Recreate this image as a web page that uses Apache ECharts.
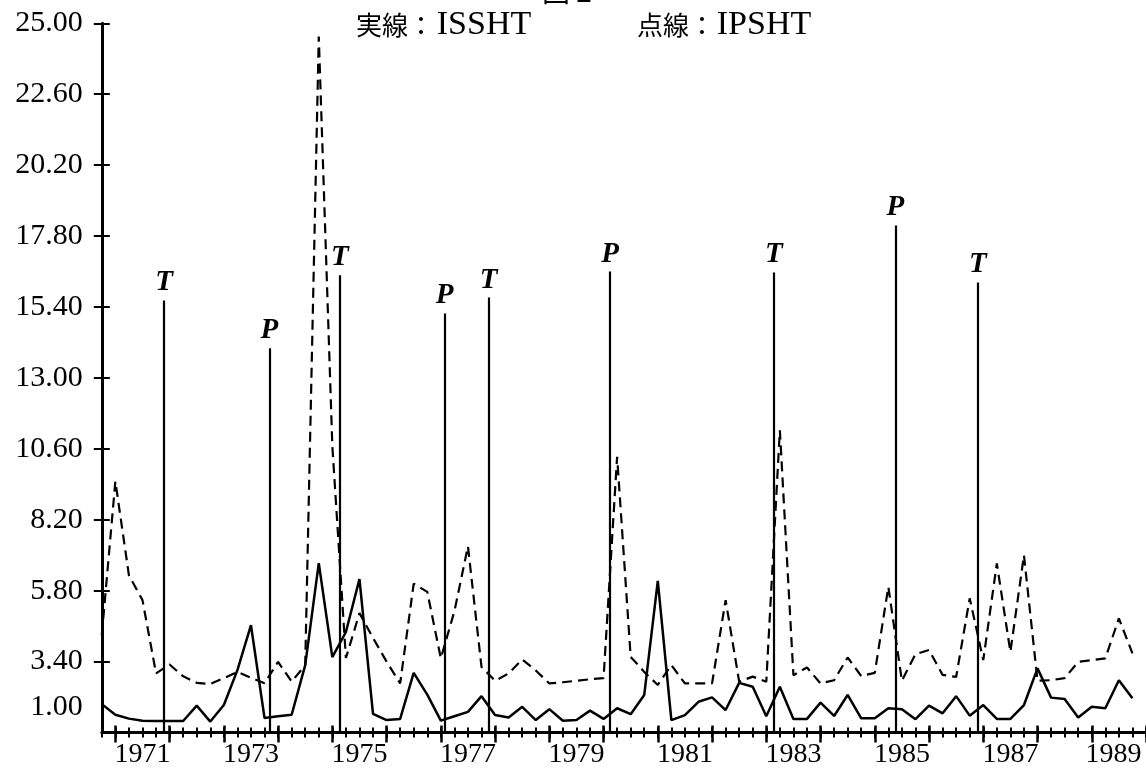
<!DOCTYPE html>
<html><head><meta charset="utf-8">
<script src="https://cdn.jsdelivr.net/npm/echarts@6/dist/echarts.min.js"></script>
<style>html,body{margin:0;padding:0;background:#fff}#c{width:1146px;height:769px}</style>
</head><body><div id="c"></div>
<script>
// Quarterly data, first point = 1970 Q4
const startQuarter = 1970.75;
const issht = [1.96,1.60,1.47,1.40,1.39,1.39,1.39,1.91,1.37,1.93,
  3.11,4.63,1.49,1.55,1.60,3.28,6.73,3.55,4.40,6.19,
  1.63,1.42,1.46,3.02,2.28,1.40,1.55,1.70,2.23,1.59,
  1.51,1.87,1.42,1.79,1.40,1.42,1.74,1.46,1.82,1.62,
  2.27,6.13,1.42,1.59,2.04,2.19,1.76,2.68,2.55,1.55,
  2.55,1.46,1.46,2.01,1.56,2.27,1.48,1.48,1.82,1.79,
  1.45,1.91,1.65,2.23,1.57,1.93,1.46,1.46,1.93,3.17,
  2.18,2.13,1.51,1.87,1.82,2.77,2.16];
const ipsht = [4.30,9.50,6.32,5.48,3.00,3.30,2.90,2.68,2.64,2.84,
  3.05,2.85,2.67,3.39,2.72,3.28,24.55,10.70,3.52,5.04,
  4.20,3.40,2.66,6.04,5.76,3.51,5.10,7.30,3.22,2.75,
  3.00,3.47,3.10,2.66,2.70,2.75,2.80,2.84,10.33,3.56,
  3.05,2.61,3.28,2.66,2.66,2.66,5.48,2.72,2.89,2.72,
  11.23,2.94,3.20,2.66,2.77,3.54,2.91,3.02,5.93,2.75,
  3.65,3.79,2.95,2.88,5.54,3.45,6.72,3.73,7.00,2.75,
  2.77,2.84,3.39,3.45,3.51,4.86,3.68];
const yTickLabels = ['1.00','3.40','5.80','8.20','10.60','13.00','15.40','17.80','20.20','22.60','25.00'];
const yearLabels = ['1971','1973','1975','1977','1979','1981','1983','1985','1987','1989'];
const yearTicks = [1971,1972,1973,1974,1975,1976,1977,1978,1979,1980,1981,1982,1983,1984,1985,1986,1987,1988,1989,1990];
// Turning points (T = trough, P = peak)
const tpLabels = ['T','P','T','P','T','P','T','P','T'];
const tpDates = [1971.90,1973.84,1975.14,1977.07,1977.88,1980.12,1983.14,1985.38,1986.90];
const tpHeights = [15.62,14.00,16.47,15.18,15.72,16.60,16.57,18.16,16.23];

const xs = issht.map((_, i) => startQuarter + i * 0.25);
const quarterTicks = [];
for (let q = startQuarter; q <= 1990.001; q += 0.25) quarterTicks.push(Math.round(q * 100) / 100);
const yVals = yTickLabels.map(Number);
const yTickVals = yVals.slice(1);
const labelPos = yearLabels.map(y => Number(y) + 0.5);

const SERIF = '"Liberation Serif","Times New Roman",serif';
const CJK = '"Noto Sans CJK JP","Noto Sans CJK SC",sans-serif';
const XMIN = 1970.75, XMAX = 1990;

function xAx(extra) {
  return Object.assign({
    type: 'value', min: XMIN, max: XMAX, position: 'bottom', gridIndex: 0,
    axisLine: {show: false, onZero: false},
    axisTick: {show: false}, axisLabel: {show: false}, splitLine: {show: false}
  }, extra);
}
function yAx(extra) {
  return Object.assign({
    type: 'value', min: 1, max: 25, position: 'left', gridIndex: 0,
    axisLine: {show: false, onZero: false},
    axisTick: {show: false}, axisLabel: {show: false}, splitLine: {show: false}
  }, extra);
}

const chart = echarts.init(document.getElementById('c'), null, {renderer: 'canvas'});
chart.setOption({
  animation: false,
  backgroundColor: '#fff',
  grid: {left: 101.8, right: -9.75, top: 23.3, bottom: 36.5, containLabel: false},
  graphic: [
    {type: 'text', x: 542, y: 5, silent: true, style: {text: '図 2', font: '28px ' + CJK, fill: '#000', align: 'left', verticalAlign: 'bottom'}},
    {type: 'text', x: 356, y: 25, silent: true, style: {text: '実線：', font: '26px ' + CJK, fill: '#000', align: 'left', verticalAlign: 'middle'}},
    {type: 'text', x: 484, y: 25, silent: true, style: {text: 'ISSHT', font: '34px ' + SERIF, fill: '#000', align: 'center', verticalAlign: 'middle'}},
    {type: 'text', x: 637, y: 25, silent: true, style: {text: '点線：', font: '26px ' + CJK, fill: '#000', align: 'left', verticalAlign: 'middle'}},
    {type: 'text', x: 764, y: 25, silent: true, style: {text: 'IPSHT', font: '34px ' + SERIF, fill: '#000', align: 'center', verticalAlign: 'middle'}}
  ],
  xAxis: [
    xAx({axisLine: {show: true, onZero: false, lineStyle: {color: '#000', width: 3}},
         axisTick: {show: true, inside: true, length: 5, customValues: quarterTicks, lineStyle: {color: '#000', width: 2}}}),
    xAx({axisTick: {show: true, inside: false, length: 5, customValues: quarterTicks, lineStyle: {color: '#000', width: 2}},
         axisLabel: {show: true, customValues: labelPos, margin: 8, color: '#000', fontFamily: SERIF, fontSize: 28,
           formatter: v => { const s = String(Math.round(v - 0.5)); return s === yearLabels[yearLabels.length - 1] ? '{r|' + s + '}' : s; },
           rich: {r: {fontFamily: SERIF, fontSize: 28, color: '#000', padding: [0, 11, 0, 0]}}}}),
    xAx({axisTick: {show: true, inside: true, length: 7, customValues: yearTicks, lineStyle: {color: '#000', width: 2.5}}}),
    xAx({axisTick: {show: true, inside: false, length: 10, customValues: yearTicks, lineStyle: {color: '#000', width: 2.5}}})
  ],
  yAxis: [
    yAx({axisLine: {show: true, onZero: false, lineStyle: {color: '#000', width: 3}},
         axisTick: {show: true, inside: true, length: 8, customValues: yTickVals, lineStyle: {color: '#000', width: 2}},
         axisLabel: {show: true, customValues: yVals, margin: 19, color: '#000', fontFamily: SERIF, fontSize: 30,
           formatter: v => { const s = v.toFixed(2); return v === yVals[0] ? '{lo|' + s + '}' : s; },
           rich: {lo: {fontFamily: SERIF, fontSize: 30, color: '#000', padding: [0, 0, 50, 0]}}}}),
    yAx({axisTick: {show: true, inside: false, length: 8, customValues: yTickVals, lineStyle: {color: '#000', width: 2}}})
  ],
  series: [
    {
      name: 'IPSHT', type: 'line', xAxisIndex: 0, yAxisIndex: 0, symbol: 'none', silent: true,
      data: xs.map((x, i) => [x, ipsht[i]]),
      lineStyle: {color: '#000', width: 2.2, type: [10, 6]}, z: 3
    },
    {
      name: 'ISSHT', type: 'line', xAxisIndex: 0, yAxisIndex: 0, symbol: 'none', silent: true,
      data: xs.map((x, i) => [x, issht[i]]),
      lineStyle: {color: '#000', width: 2.5}, z: 4,
      markLine: {
        silent: true, symbol: ['none', 'none'], animation: false,
        lineStyle: {color: '#000', width: 2.2, type: 'solid'},
        label: {show: true, position: 'end', distance: 3, formatter: p => p.name,
          fontFamily: SERIF, fontStyle: 'italic', fontWeight: 'bold', fontSize: 29, color: '#000'},
        emphasis: {disabled: true},
        data: tpDates.map((d, i) => [
          {name: tpLabels[i], coord: [d, 1]},
          {name: tpLabels[i], coord: [d, tpHeights[i]]}
        ])
      }
    }
  ]
});
</script></body></html>
